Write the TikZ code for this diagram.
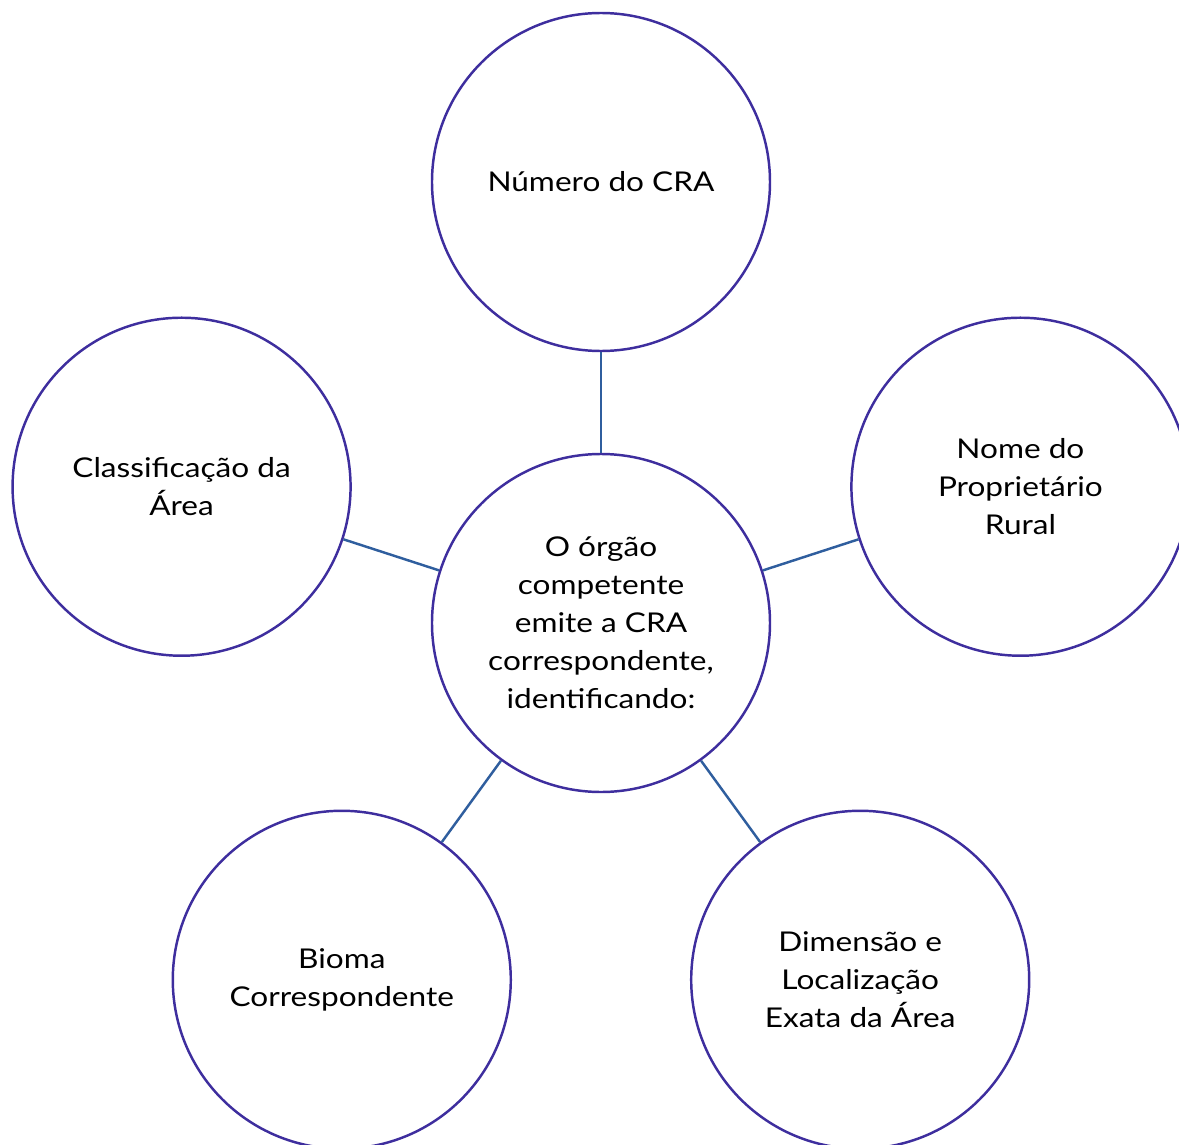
\documentclass[tikz,border=0pt]{standalone}
\usepackage{fontspec}
\setmainfont{Lato}[FakeStretch=1.16]
\usepackage{tikz,xcolor}
\usetikzlibrary{positioning}

\definecolor{ringcol}{HTML}{3E2E9E}
\definecolor{linkcol}{HTML}{2F5E9E}

\begin{document}
\begin{tikzpicture}[
        bubble/.style={circle, draw=ringcol, line width=1.4pt, fill=white, minimum size=6.76cm, inner sep=0pt, align=center, font=\fontsize{15.5}{21.6}\selectfont},
        link/.style={draw=linkcol, line width=1.4pt}
    ]
        \useasboundingbox (-12.02,12.46) rectangle (11.56,-10.42);

        % Define circles
        \node[bubble] (CENTER) at (0,0) {O órgão\\competente\\emite a CRA\\correspondente,\\identificando:};
        \node[bubble] (NUMBER) at (90:8.82) {Número do CRA};
        \node[bubble] (OWNER) at (18:8.82) {Nome do\\Proprietário\\Rural};
        \node[bubble] (SIZE) at (-54:8.82) {Dimensão e\\Localização\\Exata da Área};
        \node[bubble] (BIOME) at (234:8.82) {Bioma\\Correspondente};
        \node[bubble] (CLASS) at (162:8.82) {Classificação da\\Área};

        % Connections
        \draw[link] (CENTER) -- (NUMBER);
        \draw[link] (CENTER) -- (OWNER);
        \draw[link] (CENTER) -- (SIZE);
        \draw[link] (CENTER) -- (BIOME);
        \draw[link] (CENTER) -- (CLASS);

    \end{tikzpicture}
\end{document}
